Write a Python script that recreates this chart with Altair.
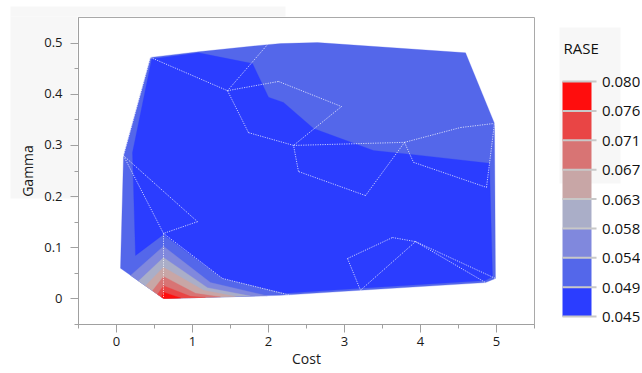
import altair as alt
import pandas as pd

# ---------------- data ----------------
# RASE contour levels (8 bands)
band_edges = [0.045, 0.049375, 0.05375, 0.058125, 0.0625, 0.066875, 0.07125, 0.075625, 0.080]
band_names = ["b1", "b2", "b3", "b4", "b5", "b6", "b7", "b8"]
band_colors = ["#2b3dff", "#5467ea", "#8088dd", "#aaaec8", "#c8a6a6", "#d87474", "#e94545", "#ff0d0d"]

# outer hull of the design region (band b2 level)
hull_x = [0.454, 1.086, 1.993, 2.164, 2.651, 4.599, 4.980, 4.993, 4.862, 3.217, 2.164, 0.625, 0.059, 0.099]
hull_y = [0.471, 0.482, 0.496, 0.498, 0.500, 0.480, 0.342, 0.039, 0.031, 0.016, 0.006, 0.000, 0.059, 0.279]

# lowest band (b1) region
dark_x = [0.470, 1.086, 1.796, 2.007, 2.204, 2.599, 3.388, 3.914, 4.914, 4.954, 4.860, 3.220, 2.230, 1.401, 0.625, 0.257, 0.217]
dark_y = [0.468, 0.480, 0.459, 0.393, 0.383, 0.332, 0.289, 0.281, 0.264, 0.043, 0.035, 0.020, 0.010, 0.039, 0.125, 0.084, 0.285]

# higher bands near Cost~0.6, Gamma~0
b3_x = [0.191, 0.625, 1.243, 1.990, 0.625]
b3_y = [0.045, 0.102, 0.031, 0.005, 0.000]
b4_x = [0.296, 0.625, 1.204, 1.770, 0.625]
b4_y = [0.034, 0.080, 0.021, 0.0045, 0.000]
b5_x = [0.388, 0.625, 1.151, 1.572, 0.625]
b5_y = [0.025, 0.061, 0.016, 0.0037, 0.000]
b6_x = [0.480, 0.625, 1.046, 1.375, 0.625]
b6_y = [0.015, 0.043, 0.010, 0.003, 0.000]
b7_x = [0.546, 0.625, 0.980, 1.178, 0.625]
b7_y = [0.008, 0.025, 0.004, 0.002, 0.000]
b8_x = [0.600, 0.625, 0.850, 0.625]
b8_y = [0.003, 0.012, 0.001, 0.000]

# triangulation mesh points and edges (white dotted lines)
mesh_pts = {
    "A": (0.454, 0.471), "B": (1.467, 0.406), "C": (1.993, 0.496), "D": (2.138, 0.424),
    "E": (2.967, 0.375), "F": (2.336, 0.299), "G": (1.743, 0.324), "H": (3.796, 0.305),
    "I": (4.533, 0.334), "J": (4.980, 0.342), "K": (3.914, 0.266), "L": (4.875, 0.217),
    "M": (2.401, 0.248), "N": (3.283, 0.201), "O": (3.046, 0.078), "P": (3.638, 0.119),
    "Q": (3.941, 0.111), "R": (4.993, 0.039), "S": (4.862, 0.031), "T": (3.217, 0.016),
    "U": (0.099, 0.279), "V": (1.072, 0.150), "W": (0.625, 0.127), "X": (1.401, 0.039),
    "Y": (2.296, 0.006), "Z": (0.625, 0.000),
}
mesh_edges = [("A", "B"), ("B", "C"), ("B", "D"), ("B", "G"), ("G", "F"), ("D", "E"), ("E", "F"),
              ("F", "H"), ("H", "I"), ("I", "J"), ("H", "K"), ("K", "L"), ("L", "J"), ("H", "N"),
              ("N", "M"), ("M", "F"), ("O", "P"), ("P", "Q"), ("Q", "R"), ("Q", "S"), ("Q", "T"),
              ("O", "T"), ("A", "U"), ("U", "W"), ("U", "V"), ("V", "W"), ("W", "X"), ("X", "Y"),
              ("W", "Z")]

x_ticks = [-0.5, 0, 0.5, 1, 1.5, 2, 2.5, 3, 3.5, 4, 4.5, 5, 5.5]
y_ticks = [-0.05, 0, 0.05, 0.1, 0.15, 0.2, 0.25, 0.3, 0.35, 0.4, 0.45, 0.5]

# ---------------- build ----------------
FONT = "Open Sans"
GRAY_BG = "#f7f7f7"
AX = "#a0a0a0"
TXT = "#1a1a1a"

polys = [("b2", hull_x, hull_y), ("b1", dark_x, dark_y), ("b3", b3_x, b3_y), ("b4", b4_x, b4_y),
         ("b5", b5_x, b5_y), ("b6", b6_x, b6_y), ("b7", b7_x, b7_y), ("b8", b8_x, b8_y)]
color_of = dict(zip(band_names, band_colors))

x_axis = alt.Axis(values=x_ticks, grid=False, domainColor=AX, tickColor=AX,
                  labelExpr="datum.value % 1 ? '' : format(datum.value, 'd')",
                  tickSize={"condition": {"test": "datum.value % 1 != 0", "value": 4}, "value": 8},
                  labelPadding=3, titlePadding=4, zindex=1,
                  labelFont=FONT, titleFont=FONT, labelFontSize=13, titleFontSize=14,
                  labelColor=TXT, titleColor=TXT, titleFontWeight="normal")
y_axis = alt.Axis(values=y_ticks, grid=False, domainColor=AX, tickColor=AX,
                  labelExpr="abs(datum.value*10 - round(datum.value*10)) > 0.001 ? '' : format(datum.value, '.1~f')",
                  tickSize={"condition": {"test": "abs(datum.value*10 - round(datum.value*10)) > 0.001", "value": 4}, "value": 8},
                  labelPadding=8, titlePadding=8, zindex=1,
                  labelFont=FONT, titleFont=FONT, labelFontSize=13, titleFontSize=14,
                  labelColor=TXT, titleColor=TXT, titleFontWeight="normal")
xs = alt.Scale(domain=[-0.5, 5.5], nice=False, zero=False)
ys = alt.Scale(domain=[-0.05, 0.55], nice=False, zero=False)

layers = []
# light gray panel behind the axis area
layers.append(alt.Chart(pd.DataFrame({"k": [0]})).mark_rect(color=GRAY_BG).encode(
    x=alt.value(-67.5), x2=alt.value(207.5), y=alt.value(-10.4), y2=alt.value(-0.6)))
layers.append(alt.Chart(pd.DataFrame({"k": [0]})).mark_rect(color=GRAY_BG).encode(
    x=alt.value(-67.5), x2=alt.value(-0.6), y=alt.value(-0.6), y2=alt.value(181.6)))

for i, (band, px, py) in enumerate(polys):
    df = pd.DataFrame({"x": px, "y": py, "o": list(range(len(px)))})
    layers.append(alt.Chart(df).mark_line(
        interpolate="linear-closed", fill=color_of[band], stroke=color_of[band],
        strokeWidth=0.3, filled=True).encode(
        x=alt.X("x:Q", scale=xs, axis=x_axis, title="Cost"),
        y=alt.Y("y:Q", scale=ys, axis=y_axis, title="Gamma"),
        order="o:Q"))

rows = []
for k, (a, b) in enumerate(mesh_edges):
    for j, p in enumerate((a, b)):
        rows.append({"seg": k, "o": j, "x": mesh_pts[p][0], "y": mesh_pts[p][1]})
mesh_df = pd.DataFrame(rows)
layers.append(alt.Chart(mesh_df).mark_line(color="white", strokeWidth=0.8, strokeDash=[1.2, 1.2], opacity=0.9).encode(
    x=alt.X("x:Q", scale=xs, axis=x_axis, title="Cost"),
    y=alt.Y("y:Q", scale=ys, axis=y_axis, title="Gamma"),
    detail="seg:N", order="o:Q"))

main = alt.layer(*layers).properties(
    width=456, height=307, view=alt.ViewBackground(stroke="#a9a9a9", strokeWidth=1))

# ---------------- legend as its own small chart ----------------
leg_df = pd.DataFrame({"lo": band_edges[:-1], "hi": band_edges[1:], "band": band_names})
edge_df = pd.DataFrame({"v": band_edges})
lys = alt.Scale(domain=[0.04389, 0.08962], nice=False, zero=False)
leg_axis = alt.Axis(orient="right", values=band_edges, format=".3f", ticks=False, tickSize=0,
                    domain=False, labelPadding=10, labelFontSize=15, labelFont=FONT, grid=False,
                    labelColor="#111", zindex=2)

leg_bg = alt.Chart(pd.DataFrame({"k": [0]})).mark_rect(color=GRAY_BG).encode(
    x=alt.value(-3), x2=alt.value(58), y=alt.value(10.6), y2=alt.value(166.6))
leg_bars = alt.Chart(leg_df).mark_rect().encode(
    y=alt.Y("lo:Q", scale=lys, axis=leg_axis, title=None), y2="hi:Q",
    x=alt.value(0), x2=alt.value(29),
    color=alt.Color("band:N", scale=alt.Scale(domain=band_names, range=band_colors), legend=None))
leg_rules = alt.Chart(edge_df).mark_rule(color="#c8c8c8", strokeWidth=2).encode(
    y=alt.Y("v:Q", scale=lys, axis=leg_axis, title=None), x=alt.value(0), x2=alt.value(34))
leg_title = alt.Chart(pd.DataFrame({"t": ["RASE"]})).mark_text(
    align="left", baseline="middle", fontSize=15, font=FONT, color="#111").encode(
    text="t:N", x=alt.value(1), y=alt.value(31.6))
legend = alt.layer(leg_bg, leg_bars, leg_rules, leg_title).properties(
    width=29, height=307, view=alt.ViewBackground(stroke=None))

chart = alt.hconcat(main, legend, spacing=28.5, bounds="flush").properties(
    padding={"left": 10, "top": 6, "right": 0, "bottom": 0},
    background="white")

chart.save("out.html", embed_options={"renderer": "svg", "actions": False})
